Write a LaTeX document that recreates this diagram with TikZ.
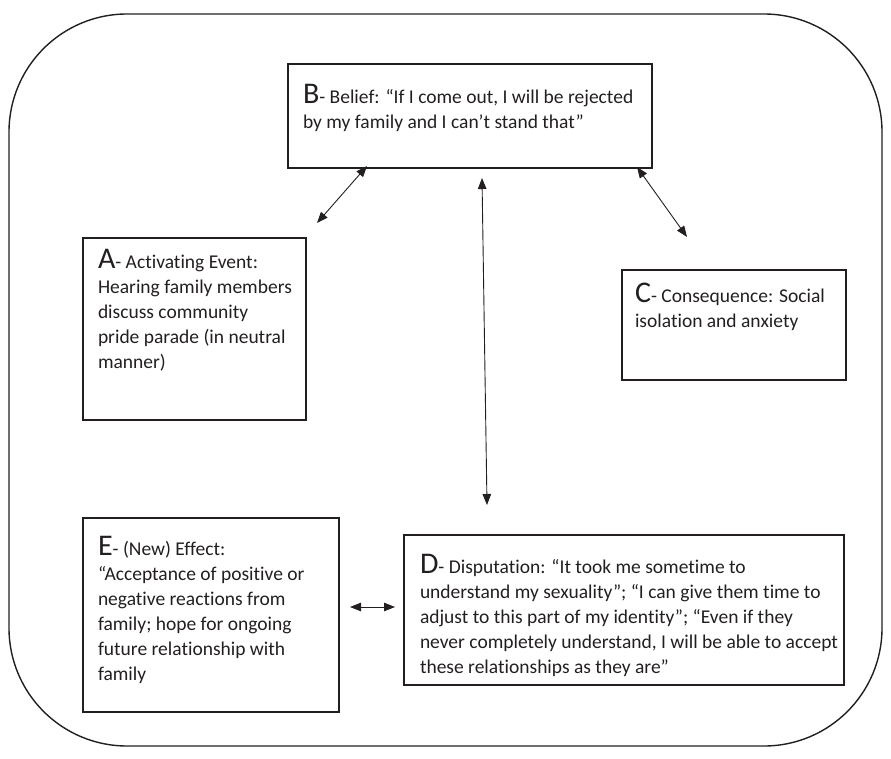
\documentclass[tikz,border=0pt]{standalone}
\usepackage{fontspec}
\setmainfont{Carlito}[Ligatures={NoCommon,NoContextual},RawFeature={-liga;-clig;-dlig}]
\usetikzlibrary{arrows.meta,calc}
\definecolor{ink}{HTML}{231F20}
\newcommand{\bigltr}[1]{{\fontsize{30}{30}\selectfont #1}}
\begin{document}
\begin{tikzpicture}[x=1pt,y=-1pt,
  every node/.style={inner sep=0pt, outer sep=0pt},
  panel/.style={draw=ink, line width=1.5pt, anchor=north west},
  label/.style={anchor=north west, align=left, text=ink,
                font=\fontsize{19.5}{25}\selectfont},
  link/.style={draw=ink, line width=0.9pt,
               {Triangle[length=11pt,width=8.5pt]}-{Triangle[length=11pt,width=8.5pt]}}]
\useasboundingbox (0,0) rectangle (891,759);

% outer rounded frame
\node[draw=ink, line width=1.4pt, rounded corners=118pt, anchor=north west,
      minimum width=873pt, minimum height=732pt] (frame) at (9,14) {};

% the five boxes
\node[panel, minimum width=364pt, minimum height=104pt] (B) at (288,64) {};
\node[panel, minimum width=223pt, minimum height=182pt] (A) at (83,238) {};
\node[panel, minimum width=224pt, minimum height=110pt] (C) at (622,270) {};
\node[panel, minimum width=256pt, minimum height=194pt] (E) at (83,518) {};
\node[panel, minimum width=440pt, minimum height=150pt] (D) at (404,535) {};

% box texts
\node[label] (Btext) at ($(B.north west)+(15,20)$)
  {\bigltr{B}- Belief: “If I come out, I will be rejected\\by my family and I can’t stand that”};
\node[label] (Atext) at ($(A.north west)+(15,11)$)
  {\bigltr{A}- Activating Event:\\Hearing family members\\discuss community\\pride parade (in neutral\\manner)};
\node[label] (Ctext) at ($(C.north west)+(13,13)$)
  {\bigltr{C}- Consequence: Social\\isolation and anxiety};
\node[label] (Etext) at ($(E.north west)+(15,18)$)
  {\bigltr{E}- (New) Effect:\\“Acceptance of positive or\\negative reactions from\\family; hope for ongoing\\future relationship with\\family};
\node[label] (Dtext) at ($(D.north west)+(16,19)$)
  {\bigltr{D}- Disputation: “It took me sometime to\\understand my sexuality”; “I can give them time to\\adjust to this part of my identity”; “Even if they\\never completely understand, I will be able to accept\\these relationships as they are”};

% connector ends
\coordinate (ba) at ($(B.south west)+(79,-2)$);
\coordinate (ab) at ($(A.north west)+(234,-15)$);
\coordinate (bc) at ($(B.south west)+(349,-1)$);
\coordinate (cb) at ($(C.north west)+(65,-33)$);
\coordinate (bd) at ($(B.south west)+(194,10)$);
\coordinate (db) at ($(D.north west)+(83,-30)$);
\coordinate (ed) at ($(E.north east)+(11,89)$);
\coordinate (de) at ($(D.north west)+(-9,72)$);

% connectors
\draw[link] (ba) -- (ab);
\draw[link] (bc) -- (cb);
\draw[link] (bd) -- (db);
\draw[link] (ed) -- (de);
\end{tikzpicture}
\end{document}
